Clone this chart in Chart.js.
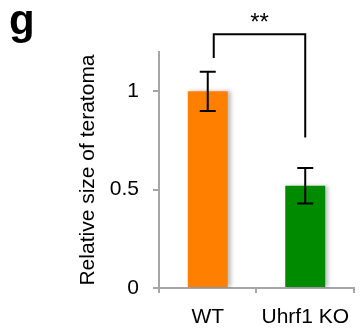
<!DOCTYPE html>
<html>
<head>
<meta charset="utf-8">
<script src="https://cdn.jsdelivr.net/npm/chart.js@4/dist/chart.umd.min.js"></script>
<style>
  body { margin: 0; background: #fff; }
  #wrap { width: 361px; height: 330px; position: relative; }
</style>
</head>
<body>
<div id="wrap"><canvas id="chart"></canvas></div>
<script>
// Data
const categories = ['WT', 'Uhrf1 KO'];
const values = [1.0, 0.52];
const errors = [0.1, 0.09];
const barColors = ['#FF7F00', '#008A00'];
const yTicks = [0, 0.5, 1];
// significance bracket: top of bracket and bottom of each leg (in data units)
const bracketTop = 1.29;
const bracketLegs = [1.17, 0.765];
const sigLabel = '**';
const panelLabel = 'g';

const axisGray = '#A6A6A6';
const fontFamily = "'Liberation Sans', Arial, Helvetica, sans-serif";

// Bar shadow, error bars, bracket and panel letter
const extras = {
  id: 'extras',
  beforeDatasetsDraw(chart) {
    const ctx = chart.ctx;
    ctx.save();
    ctx.shadowColor = 'rgba(0,0,0,0.25)';
    ctx.shadowOffsetX = 3;
    ctx.shadowOffsetY = 0;
    ctx.shadowBlur = 4;
  },
  afterDatasetsDraw(chart) {
    const ctx = chart.ctx;
    ctx.restore();
    const x = chart.scales.x;
    const y = chart.scales.y;

    // error bars
    ctx.save();
    ctx.strokeStyle = '#000';
    ctx.lineWidth = 2;
    values.forEach((v, i) => {
      const cx = x.getPixelForValue(i);
      const top = y.getPixelForValue(v + errors[i]);
      const bot = y.getPixelForValue(v - errors[i]);
      ctx.beginPath();
      ctx.moveTo(cx, top); ctx.lineTo(cx, bot);
      ctx.moveTo(cx - 8, top); ctx.lineTo(cx + 8, top);
      ctx.moveTo(cx - 8, bot); ctx.lineTo(cx + 8, bot);
      ctx.stroke();
    });

    // bracket
    const lx = x.getPixelForValue(0) + 6;
    const rx = x.getPixelForValue(1);
    const ty = y.getPixelForValue(bracketTop);
    ctx.beginPath();
    ctx.moveTo(lx, y.getPixelForValue(bracketLegs[0]));
    ctx.lineTo(lx, ty);
    ctx.lineTo(rx, ty);
    ctx.lineTo(rx, y.getPixelForValue(bracketLegs[1]));
    ctx.stroke();

    ctx.fillStyle = '#000';
    ctx.font = '24px ' + fontFamily;
    ctx.textAlign = 'center';
    ctx.textBaseline = 'alphabetic';
    ctx.fillText(sigLabel, (lx + rx) / 2, ty - 4);

    // panel letter
    ctx.font = 'bold 42px ' + fontFamily;
    ctx.textAlign = 'left';
    ctx.fillText(panelLabel, 9, 34);
    ctx.restore();
  }
};

new Chart(document.getElementById('chart'), {
  type: 'bar',
  data: {
    labels: categories,
    datasets: [{
      data: values,
      backgroundColor: barColors,
      borderWidth: 0,
      barPercentage: 0.41,
      categoryPercentage: 1
    }]
  },
  options: {
    responsive: true,
    maintainAspectRatio: false,
    animation: false,
    events: [],
    layout: { padding: { top: 52, right: 0, left: 0, bottom: 0 } },
    plugins: {
      legend: { display: false },
      tooltip: { enabled: false }
    },
    scales: {
      x: {
        offset: true,
        grid: {
          offset: true,
          drawOnChartArea: false,
          drawTicks: true,
          tickLength: 5,
          color: axisGray,
          lineWidth: 2
        },
        border: { display: true, color: axisGray, width: 2 },
        ticks: {
          color: '#000',
          padding: 12,
          font: { family: fontFamily, size: 21 }
        },
        afterFit(scale) { scale.height = 42; }
      },
      y: {
        min: 0,
        max: 1.2,
        afterBuildTicks(scale) {
          scale.ticks = yTicks.map(v => ({ value: v }));
        },
        grid: {
          drawOnChartArea: false,
          drawTicks: true,
          tickLength: 6,
          color: axisGray,
          lineWidth: 2
        },
        border: { display: true, color: axisGray, width: 2 },
        ticks: {
          color: '#000',
          padding: 14,
          font: { family: fontFamily, size: 21 },
          callback: v => String(v)
        },
        title: {
          display: true,
          text: 'Relative size of teratoma',
          color: '#000',
          font: { family: fontFamily, size: 21 },
          padding: { top: 76, bottom: 0 }
        },
        afterFit(scale) { scale.width = 159; }
      }
    }
  },
  plugins: [extras]
});
</script>
</body>
</html>
